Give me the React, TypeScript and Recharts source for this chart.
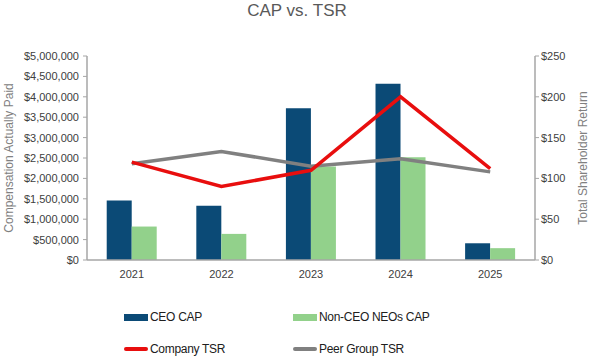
import {
  ComposedChart,
  Bar,
  Line,
  XAxis,
  YAxis,
  Label,
} from 'recharts'

const years = ['2021', '2022', '2023', '2024', '2025']
const ceoCap = [1460000, 1330000, 3720000, 4320000, 410000]
const nonCeoCap = [820000, 640000, 2290000, 2520000, 290000]
const companyTsr = [120, 90, 110, 200, 112]
const peerTsr = [118, 133, 115, 124, 108]

const leftTicks = [0, 500000, 1000000, 1500000, 2000000, 2500000, 3000000, 3500000, 4000000, 4500000, 5000000]
const rightTicks = [0, 50, 100, 150, 200, 250]
const boundaryTicks = [0, 1, 2, 3, 4, 5]

const data = years.map((year, i) => ({
  year,
  ceo: ceoCap[i],
  nonCeo: nonCeoCap[i],
  company: companyTsr[i],
  peer: peerTsr[i],
}))

const FONT = '"Liberation Sans", Arial, sans-serif'
const AXIS = '#a6a6a6'
const TEXT = '#404040'

const legendRows = [
  [
    { name: 'CEO CAP', color: '#0b4a76', kind: 'bar', x: 124 },
    { name: 'Non-CEO NEOs CAP', color: '#92d18b', kind: 'bar', x: 293 },
  ],
  [
    { name: 'Company TSR', color: '#e80e0e', kind: 'line', x: 124 },
    { name: 'Peer Group TSR', color: '#808080', kind: 'line', x: 293 },
  ],
]

const money = (v: number) => '$' + v.toLocaleString('en-US')

export default function App() {
  return (
    <div style={{ position: 'absolute', left: 0, top: 0, width: 591, height: 359, background: '#fff', fontFamily: FONT }}>
      <div style={{ position: 'absolute', top: 1, left: 197, width: 200, textAlign: 'center', fontSize: 17, color: '#595959' }}>
        CAP vs. TSR
      </div>
      <ComposedChart
        width={591}
        height={359}
        data={data}
        margin={{ top: 56, right: 6, bottom: 0, left: 7 }}
        barGap={0}
        barCategoryGap="22%"
      >
        <XAxis
          xAxisId="grid"
          type="number"
          domain={[0, 5]}
          ticks={boundaryTicks}
          height={0}
          axisLine={false}
          tickLine={{ stroke: AXIS }}
          tickSize={4}
          tickFormatter={() => ''}
        />
        <XAxis
          dataKey="year"
          height={99}
          axisLine={{ stroke: AXIS, strokeWidth: 1.5 }}
          tickLine={false}
          tick={{ fill: TEXT, fontSize: 11, fontFamily: FONT }}
          tickMargin={4}
        />
        <YAxis
          yAxisId="left"
          width={80}
          domain={[0, 5000000]}
          ticks={leftTicks}
          tickFormatter={money}
          axisLine={{ stroke: AXIS, strokeWidth: 1.5 }}
          tickLine={{ stroke: AXIS }}
          tickSize={4}
          tickMargin={4}
          tick={{ fill: TEXT, fontSize: 11, fontFamily: FONT }}
        >
          <Label
            value="Compensation Actually Paid"
            angle={-90}
            position="insideLeft"
            offset={2}
            style={{ textAnchor: 'middle', fill: '#808080', fontSize: 12, fontFamily: FONT }}
          />
        </YAxis>
        <YAxis
          yAxisId="right"
          orientation="right"
          width={50}
          domain={[0, 250]}
          ticks={rightTicks}
          tickFormatter={(v: number) => '$' + v}
          axisLine={{ stroke: AXIS, strokeWidth: 1.5 }}
          tickLine={{ stroke: AXIS }}
          tickSize={4}
          tick={{ fill: TEXT, fontSize: 11, fontFamily: FONT }}
        >
          <Label
            value="Total Shareholder Return"
            angle={-90}
            position="insideRight"
            offset={2}
            style={{ textAnchor: 'middle', fill: '#808080', fontSize: 12, fontFamily: FONT }}
          />
        </YAxis>
        <Bar yAxisId="left" dataKey="ceo" name="CEO CAP" fill="#0b4a76" isAnimationActive={false} />
        <Bar yAxisId="left" dataKey="nonCeo" name="Non-CEO NEOs CAP" fill="#92d18b" isAnimationActive={false} />
        <Line
          yAxisId="right"
          dataKey="peer"
          name="Peer Group TSR"
          stroke="#808080"
          strokeWidth={3.5}
          dot={false}
          type="linear"
          isAnimationActive={false}
        />
        <Line
          yAxisId="right"
          dataKey="company"
          name="Company TSR"
          stroke="#e80e0e"
          strokeWidth={3.5}
          dot={false}
          type="linear"
          isAnimationActive={false}
        />
      </ComposedChart>
      {legendRows.map((row, r) =>
        row.map((item) => (
          <div
            key={item.name}
            style={{
              position: 'absolute',
              left: item.x,
              top: r === 0 ? 309 : 341,
              height: 16,
              display: 'flex',
              alignItems: 'center',
              fontSize: 12,
              color: '#202020',
              letterSpacing: -0.3,
            }}
          >
            <span
              style={{
                display: 'inline-block',
                width: 24,
                height: item.kind === 'bar' ? 7 : 4,
                borderRadius: item.kind === 'bar' ? 0 : 2,
                background: item.color,
                marginRight: 2,
              }}
            />
            {item.name}
          </div>
        ))
      )}
    </div>
  )
}
